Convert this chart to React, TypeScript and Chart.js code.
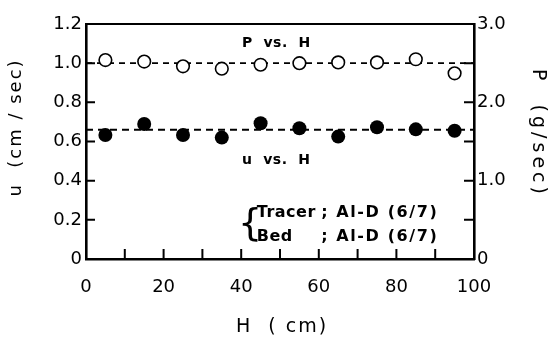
import React, { useEffect, useRef } from 'react';
import { Chart, registerables } from 'chart.js';

Chart.register(...registerables);

// ---- data ----
const heights = [5, 15, 25, 35, 45, 55, 65, 75, 85, 95];
const pValues = [2.54, 2.52, 2.46, 2.43, 2.48, 2.5, 2.51, 2.51, 2.55, 2.37];
const uValues = [0.633, 0.689, 0.633, 0.62, 0.693, 0.668, 0.625, 0.673, 0.662, 0.655];
const pMeanLine = [2.5, 2.5];
const uMeanLine = [0.66, 0.66];
const meanLineX = [0, 100];

// ---- ticks ----
const xTickValues = [0, 20, 40, 60, 80, 100];
const xTickLabels = ['0', '20', '40', '60', '80', '100'];
const xTickMarks = [10, 20, 30, 40, 50, 60, 70, 80, 90];
const uTickValues = [0, 0.2, 0.4, 0.6, 0.8, 1.0, 1.2];
const uTickLabels = ['0', '0.2', '0.4', '0.6', '0.8', '1.0', '1.2'];
const uTickMarks = [0.2, 0.4, 0.6, 0.8, 1.0];
const pTickValues = [0, 1, 2, 3];
const pTickLabels = ['0', '1.0', '2.0', '3.0'];
const pTickMarks = [0.5, 1, 1.5, 2, 2.5];

// ---- text ----
const xTitle = 'H  ( cm)';
const uTitle = 'u  (cm / sec)';
const pTitle = 'P  (g/sec)';
const annotations = [
  { text: 'P  vs.  H', x: 40.2, y: 1.103, size: 14, spacing: 0.5 },
  { text: 'u  vs.  H', x: 40.2, y: 0.506, size: 14, spacing: 0.5 },
  { text: 'Tracer', x: 44, y: 0.235, size: 16, spacing: 0.5 },
  { text: 'Bed', x: 44, y: 0.112, size: 16, spacing: 0.5 },
  { text: '; Al-D (6/7)', x: 60.6, y: 0.235, size: 16, spacing: 1.6 },
  { text: '; Al-D (6/7)', x: 60.6, y: 0.112, size: 16, spacing: 1.6 },
];
const brace = { text: '{', x: 39.2, y: 0.172, size: 38 };

const FONT = "'DejaVu Sans', sans-serif";

const decorPlugin = {
  id: 'decor',
  afterDraw(chart: any) {
    const { ctx, chartArea: a, scales } = chart;
    const x = scales.x, y = scales.y, y2 = scales.y2;
    ctx.save();
    ctx.strokeStyle = '#000';
    ctx.fillStyle = '#000';
    // top frame
    ctx.lineWidth = 2.2;
    ctx.beginPath();
    ctx.moveTo(a.left - 1, a.top);
    ctx.lineTo(a.right + 1, a.top);
    ctx.stroke();
    // inward tick marks
    ctx.lineWidth = 2;
    ctx.beginPath();
    xTickMarks.forEach((v) => {
      const px = x.getPixelForValue(v);
      ctx.moveTo(px, a.bottom);
      ctx.lineTo(px, a.bottom - 10);
    });
    uTickMarks.forEach((v) => {
      const py = y.getPixelForValue(v);
      ctx.moveTo(a.left, py);
      ctx.lineTo(a.left + 9, py);
    });
    pTickMarks.forEach((v) => {
      const py = y2.getPixelForValue(v);
      ctx.moveTo(a.right, py);
      ctx.lineTo(a.right - 10, py);
    });
    ctx.stroke();

    // axis titles
    ctx.textBaseline = 'middle';
    ctx.textAlign = 'center';
    ctx.font = `19px ${FONT}`;
    (ctx as any).letterSpacing = '2px';
    ctx.fillText(xTitle, (a.left + a.right) / 2 + 2, a.bottom + 68);

    ctx.save();
    ctx.font = `18px ${FONT}`;
    (ctx as any).letterSpacing = '2px';
    ctx.translate(a.left - 70, (a.top + a.bottom) / 2 - 14);
    ctx.rotate(-Math.PI / 2);
    ctx.fillText(uTitle, 0, 0);
    ctx.restore();

    ctx.save();
    ctx.font = `19px ${FONT}`;
    (ctx as any).letterSpacing = '4px';
    ctx.translate(a.right + 64, (a.top + a.bottom) / 2 - 8);
    ctx.rotate(Math.PI / 2);
    ctx.fillText(pTitle, 0, 0);
    ctx.restore();

    // annotations
    ctx.textAlign = 'left';
    annotations.forEach((t) => {
      ctx.font = `bold ${t.size}px ${FONT}`;
      (ctx as any).letterSpacing = `${t.spacing}px`;
      ctx.fillText(t.text, x.getPixelForValue(t.x), y.getPixelForValue(t.y));
    });
    ctx.font = `${brace.size}px ${FONT}`;
    (ctx as any).letterSpacing = '0px';
    ctx.fillText(brace.text, x.getPixelForValue(brace.x), y.getPixelForValue(brace.y));
    ctx.restore();
  },
};

const tickFont = { family: FONT, size: 18 };

export default function App() {
  const ref = useRef<HTMLCanvasElement>(null);
  useEffect(() => {
    if (!ref.current) return;
    const chart = new Chart(ref.current, {
      type: 'scatter',
      data: {
        datasets: [
          {
            label: 'u vs. H',
            data: heights.map((h, i) => ({ x: h, y: uValues[i] })),
            yAxisID: 'y',
            pointRadius: 7,
            pointBackgroundColor: '#000',
            pointBorderColor: '#000',
            pointBorderWidth: 0,
            showLine: false,
            order: 0,
          },
          {
            label: 'P vs. H',
            data: heights.map((h, i) => ({ x: h, y: pValues[i] })),
            yAxisID: 'y2',
            pointRadius: 6.3,
            pointBackgroundColor: '#fff',
            pointBorderColor: '#000',
            pointBorderWidth: 1.6,
            showLine: false,
            order: 0,
          },
          {
            label: 'u mean',
            data: meanLineX.map((h, i) => ({ x: h, y: uMeanLine[i] })),
            yAxisID: 'y',
            showLine: true,
            borderColor: '#000',
            borderWidth: 1.8,
            borderDash: [7, 5],
            pointRadius: 0,
            order: 1,
          },
          {
            label: 'P mean',
            data: meanLineX.map((h, i) => ({ x: h, y: pMeanLine[i] })),
            yAxisID: 'y2',
            showLine: true,
            borderColor: '#000',
            borderWidth: 1.6,
            borderDash: [6, 5],
            pointRadius: 0,
            order: 1,
          },
        ],
      },
      options: {
        animation: false,
        responsive: false,
        layout: { padding: { top: 24, left: 0, right: 0, bottom: 0 } },
        plugins: { legend: { display: false }, tooltip: { enabled: false } },
        scales: {
          x: {
            type: 'linear',
            min: 0,
            max: 100,
            afterFit: (s: any) => { s.height = 80; },
            afterBuildTicks: (s: any) => { s.ticks = xTickValues.map((v) => ({ value: v })); },
            ticks: {
              font: tickFont,
              color: '#000',
              padding: 18,
              maxRotation: 0,
              autoSkip: false,
              callback: (v: any) => xTickLabels[xTickValues.indexOf(Number(v))] ?? '',
            },
            grid: { display: false, drawTicks: false },
            border: { display: true, color: '#000', width: 2.6 },
          },
          y: {
            type: 'linear',
            position: 'left',
            min: 0,
            max: 1.2,
            afterFit: (s: any) => { s.width = 86; },
            afterBuildTicks: (s: any) => { s.ticks = uTickValues.map((v) => ({ value: v })); },
            ticks: {
              font: tickFont,
              color: '#000',
              padding: 4,
              autoSkip: false,
              callback: (v: any) => uTickLabels[uTickValues.findIndex((t) => Math.abs(t - Number(v)) < 1e-6)] ?? '',
            },
            grid: { display: false, drawTicks: false },
            border: { display: true, color: '#000', width: 2.6 },
          },
          y2: {
            type: 'linear',
            position: 'right',
            min: 0,
            max: 3,
            afterFit: (s: any) => { s.width = 82; },
            afterBuildTicks: (s: any) => { s.ticks = pTickValues.map((v) => ({ value: v })); },
            ticks: {
              font: tickFont,
              color: '#000',
              padding: 3,
              autoSkip: false,
              callback: (v: any) => pTickLabels[pTickValues.findIndex((t) => Math.abs(t - Number(v)) < 1e-6)] ?? '',
            },
            grid: { display: false, drawTicks: false },
            border: { display: true, color: '#000', width: 2.6 },
          },
        },
      },
      plugins: [decorPlugin],
    } as any);
    return () => chart.destroy();
  }, []);
  return (
    <div style={{ position: 'fixed', left: 0, top: 0, width: 556, height: 339, background: '#fff' }}>
      <canvas ref={ref} width={556} height={339} />
    </div>
  );
}
